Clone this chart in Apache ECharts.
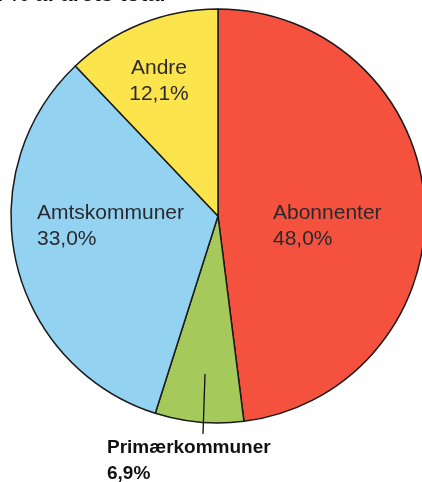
<!DOCTYPE html>
<html>
<head>
<meta charset="utf-8">
<script src="https://cdn.jsdelivr.net/npm/echarts@6/dist/echarts.min.js"></script>
<style>
  html, body { margin: 0; padding: 0; background: #fff; }
  #chart { width: 422px; height: 482px; }
</style>
</head>
<body>
<div id="chart"></div>
<script>
// andele i % af årets total, med uret fra toppen
let names = ['Abonnenter', 'Primærkommuner', 'Amtskommuner', 'Andre'];
let values = [48.0, 6.9, 33.0, 12.1];
let valueText = ['48,0%', '6,9%', '33,0%', '12,1%'];
let colors = ['#f5513f', '#a5c95b', '#93d3f1', '#fce54c'];

// hvor teksterne står (x, y, justering)
let labelPos = [
  { x: 273, y: 226, align: 'left' },
  { x: 107, y: 461, align: 'left' },
  { x: 37, y: 226, align: 'left' },
  { x: 159, y: 81, align: 'center' }
];

let chart = echarts.init(document.getElementById('chart'), null, { renderer: 'canvas' });

let pieData = [];
for (let i = 0; i < names.length; i++) {
  pieData.push({
    name: names[i],
    value: values[i],
    itemStyle: { color: colors[i] },
    label: i === 1 ? { fontWeight: 'bold', fontSize: 19, color: '#111' } : {}
  });
}

let option = {
  animation: false,
  graphic: [
    {
      type: 'text',
      left: -3,
      top: -16,
      z: 100,
      style: {
        text: 'I % af årets total',
        font: 'bold 22px "Liberation Sans", Arial, sans-serif',
        fill: '#111'
      }
    },
    {
      // henvisningslinje til Primærkommuner
      type: 'line',
      z: 100,
      shape: { x1: 205, y1: 374, x2: 203, y2: 434 },
      style: { stroke: '#111', lineWidth: 1.3 }
    }
  ],
  series: [
    {
      type: 'pie',
      center: [218, 216],
      radius: 207,
      startAngle: 90,
      clockwise: true,
      silent: true,
      itemStyle: { borderColor: '#1a1a1a', borderWidth: 1.5 },
      label: {
        show: true,
        position: 'inside',
        fontFamily: '"Liberation Sans", Arial, sans-serif',
        fontSize: 21,
        lineHeight: 26,
        color: '#2a2a2e',
        formatter: function (p) {
          return p.name + '\n' + valueText[p.dataIndex];
        }
      },
      labelLine: { show: false },
      labelLayout: function (params) {
        let pos = labelPos[params.dataIndex];
        return { x: pos.x, y: pos.y, align: pos.align, verticalAlign: 'middle' };
      },
      data: pieData
    }
  ]
};

chart.setOption(option);
</script>
</body>
</html>
